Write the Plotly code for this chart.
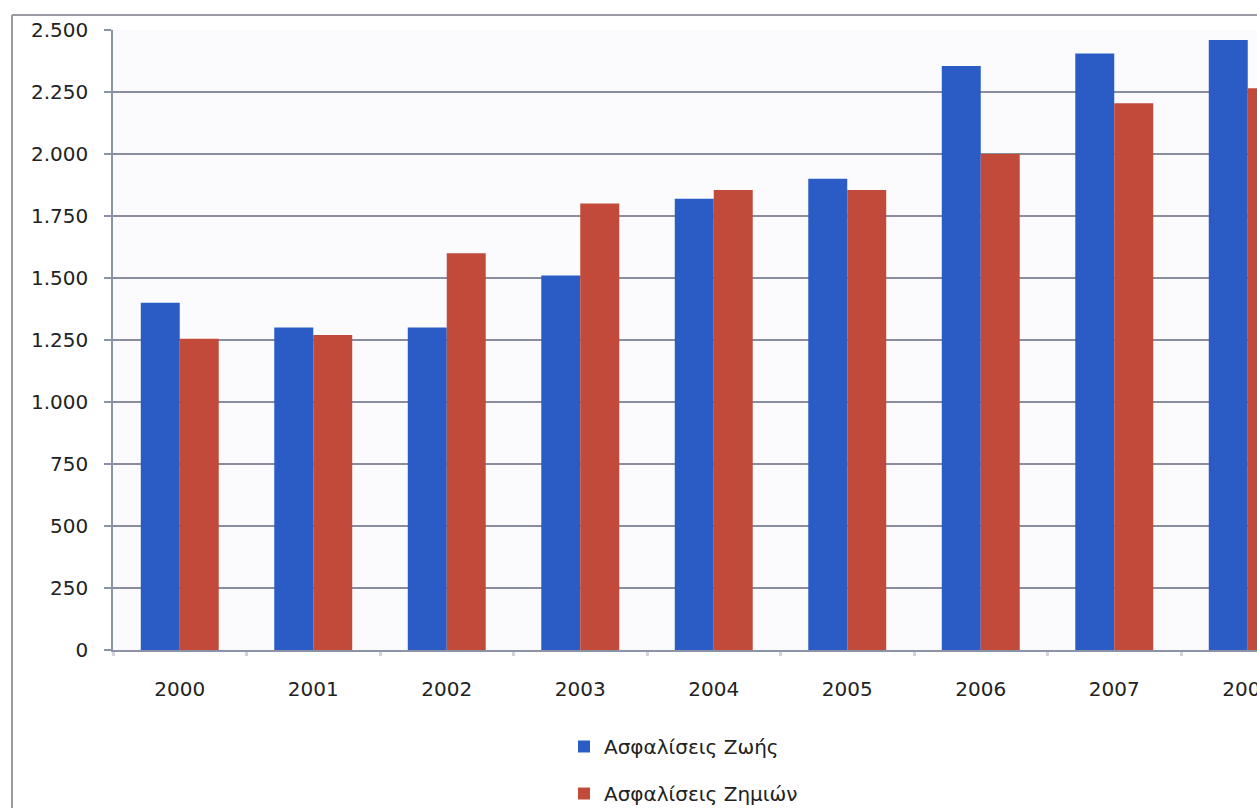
import plotly.graph_objects as go

# Yearly premiums, life vs. non-life insurance
years = ["2000", "2001", "2002", "2003", "2004", "2005", "2006", "2007", "2008"]
life = [1400, 1300, 1300, 1510, 1820, 1900, 2355, 2405, 2460]
nonlife = [1255, 1270, 1600, 1800, 1855, 1855, 2000, 2205, 2265]
y_ticks = [0, 250, 500, 750, 1000, 1250, 1500, 1750, 2000, 2250, 2500]

W, H = 1257, 808
ML, MR, MT, MB = 113, 0, 30, 158
PW, PH = W - ML - MR, H - MT - MB


def px_x(px):
    return (px - ML) / PW


def px_y(py):
    return (H - MB - py) / PH


FONT = "DejaVu Sans"
BLUE = "#2b5cc6"
RED = "#c14a3b"

fig = go.Figure()
fig.add_trace(go.Bar(x=years, y=life, name="Ασφαλίσεις Ζωής",
                     marker=dict(color=BLUE, line=dict(width=0)),
                     legendgroup="a"))
fig.add_trace(go.Bar(x=years, y=nonlife, name="Ασφαλίσεις Ζημιών",
                     marker=dict(color=RED, line=dict(width=0)),
                     legendgroup="b"))

# Category slots are 133.5 px wide; the last year runs past the right edge
n_visible = PW / 133.5

fig.update_layout(
    width=W, height=H,
    margin=dict(l=ML, r=MR, t=MT, b=MB, pad=0, autoexpand=False),
    paper_bgcolor="white",
    plot_bgcolor="#fbfbfd",
    barmode="group",
    bargap=0.416,
    bargroupgap=0,
    separators=",.",
    font=dict(family=FONT, size=20, color="#222222"),
    showlegend=True,
    legend=dict(
        x=px_x(564), y=px_y(727), xanchor="left", yanchor="top",
        orientation="v", tracegroupgap=18, itemwidth=30,
        font=dict(family=FONT, size=20, color="#222222"),
        bgcolor="rgba(0,0,0,0)",
    ),
    xaxis=dict(
        type="category",
        range=[-0.5, -0.5 + n_visible],
        showline=True, linecolor="#8d93a6", linewidth=1.5,
        ticks="outside", tickson="boundaries", ticklen=4,
        tickcolor="#d4d4da", tickwidth=3,
        showgrid=False,
        tickfont=dict(family=FONT, size=20, color="#222222"),
        ticklabelstandoff=20,
        automargin=False,
    ),
    yaxis=dict(
        range=[0, 2500],
        tickvals=y_ticks,
        tickformat=",d",
        showline=True, linecolor="#8d93a6", linewidth=1.5,
        ticks="outside", ticklen=7, tickcolor="#8d93a6", tickwidth=1.5,
        showgrid=True, gridcolor="#8a8d9e", gridwidth=1.5,
        zeroline=False,
        tickfont=dict(family=FONT, size=20, color="#222222"),
        ticklabelstandoff=12,
        automargin=False,
    ),
)

# Outer chart frame (top and left edges)
fig.add_shape(type="line", xref="paper", yref="paper",
              x0=px_x(12), x1=px_x(W), y0=px_y(15), y1=px_y(15),
              line=dict(color="#9a9aa4", width=2))
fig.add_shape(type="line", xref="paper", yref="paper",
              x0=px_x(12), x1=px_x(12), y0=px_y(15), y1=px_y(H),
              line=dict(color="#9a9aa4", width=2))

fig.write_html(
    "out.html",
    post_script="document.body.style.margin='0';document.body.style.overflow='hidden';",
)
